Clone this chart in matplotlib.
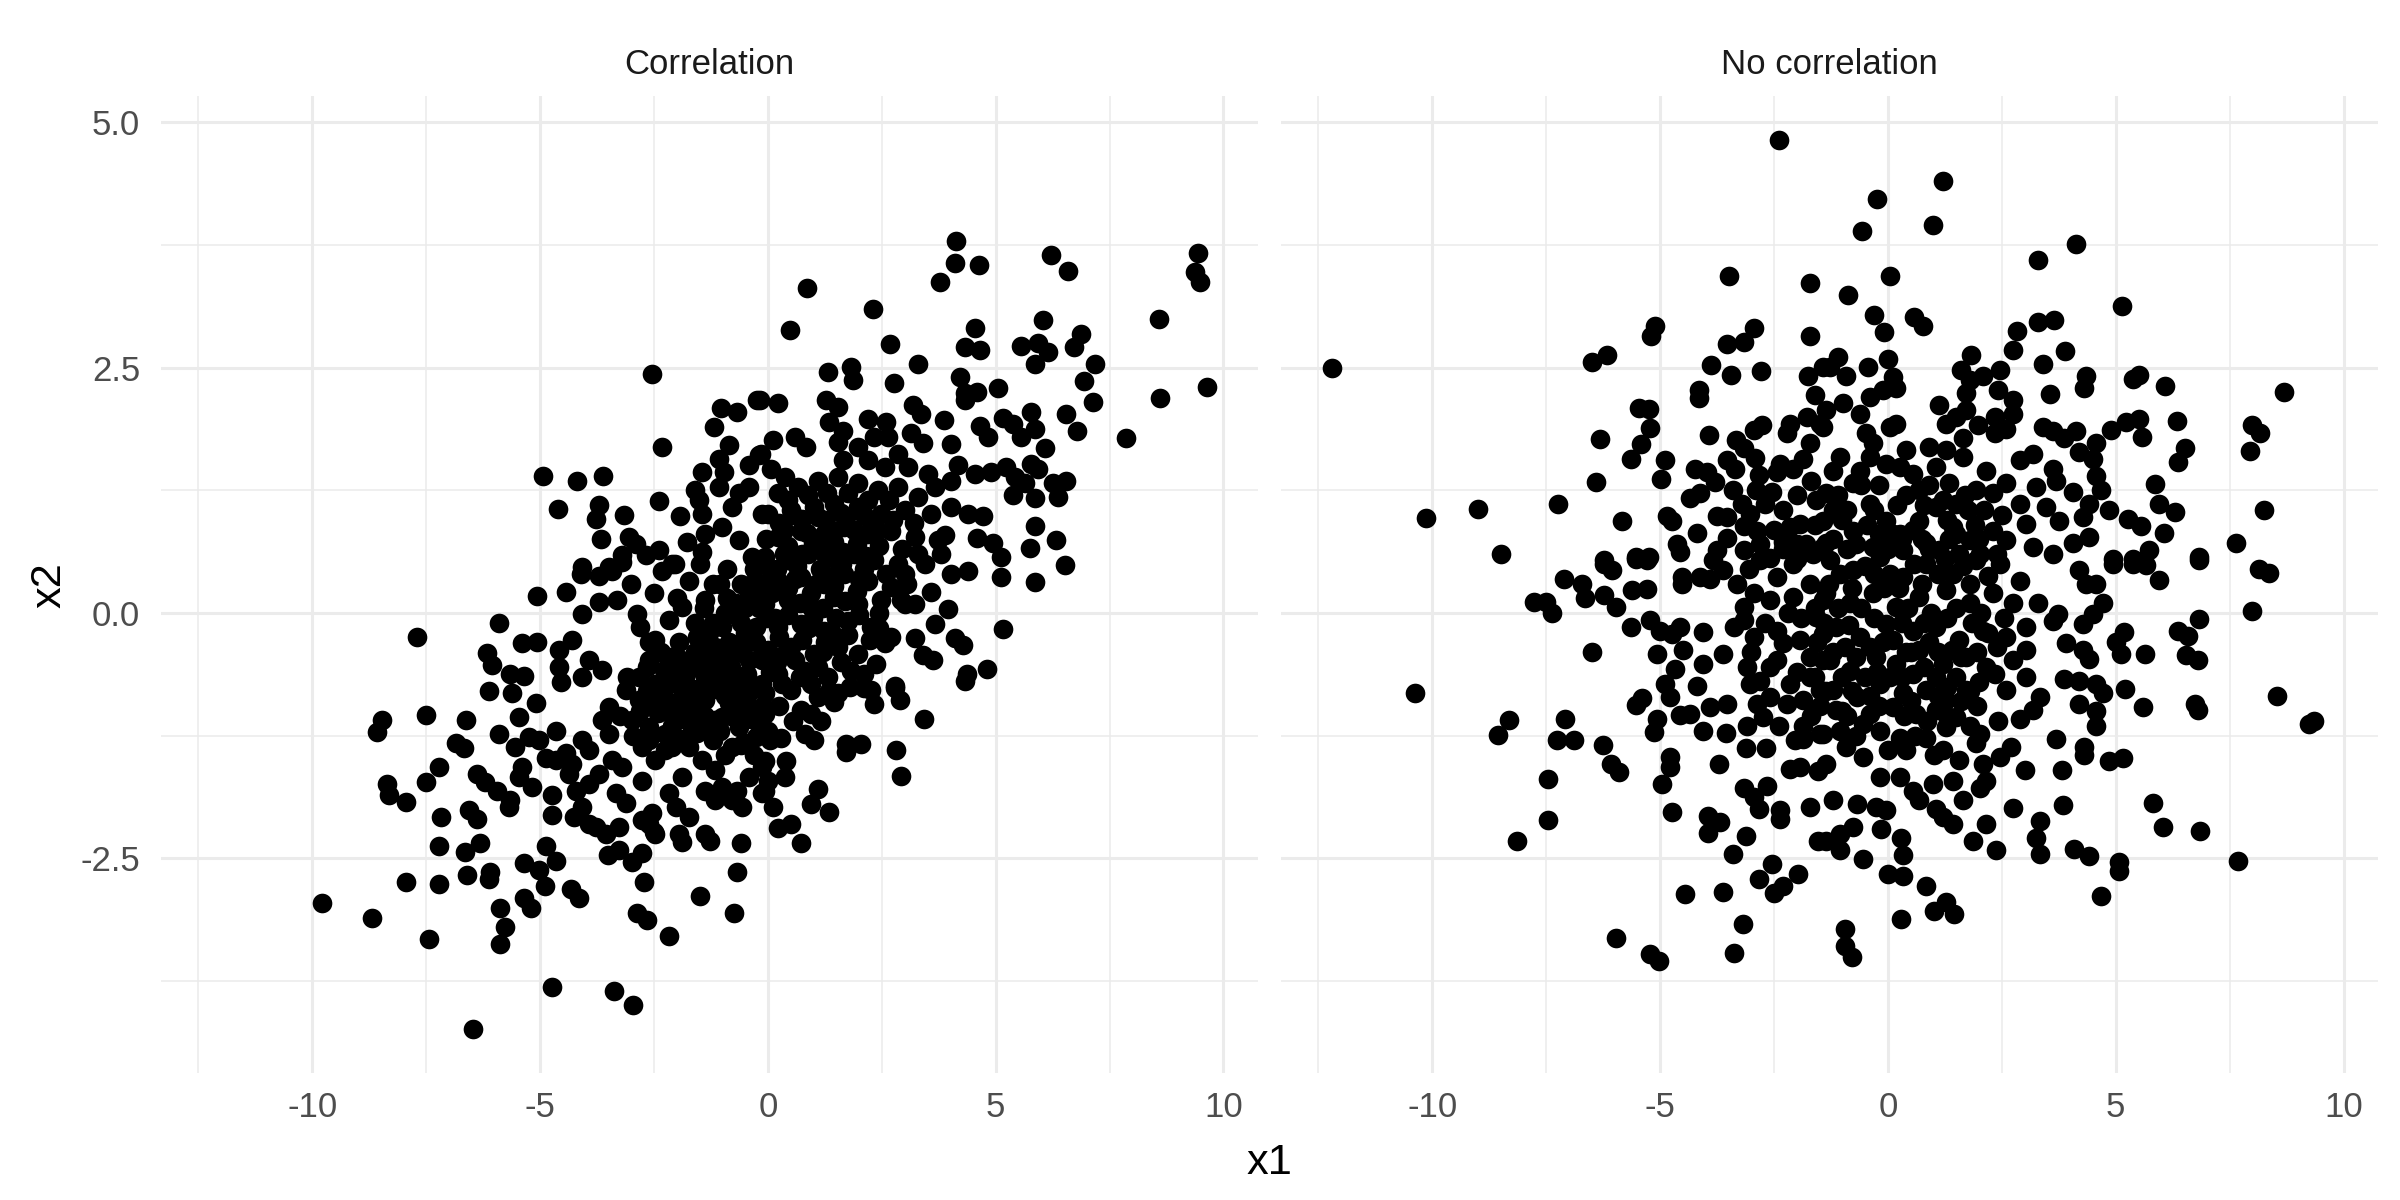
import numpy as np
import matplotlib.pyplot as plt

# points (x1, x2)
corr_pts = np.array([
    # lower-left tail
    (-7.70, -0.25), (-5.06, 0.17), (-5.90, -0.10), (-8.46, -1.09), (-8.57, -1.21), (-7.51, -1.04),
    (-6.62, -1.09), (-6.85, -1.33), (-6.67, -1.38), (-7.22, -1.57), (-7.51, -1.72), (-8.35, -1.74),
    (-8.32, -1.86), (-7.95, -1.93), (-6.38, -1.64), (-6.20, -1.72), (-5.94, -1.81), (-7.18, -2.08),
    (-6.56, -2.01), (-6.38, -2.10), (-7.22, -2.38), (-6.31, -2.35), (-6.64, -2.44), (-7.95, -2.74),
    (-7.22, -2.76), (-6.60, -2.67), (-6.09, -2.64), (-6.12, -2.71), (-9.78, -2.96), (-8.70, -3.11),
    (-7.44, -3.32), (-5.87, -3.01), (-5.77, -3.20), (-5.88, -3.37), (-5.35, -2.55), (-5.03, -2.62),
    (-4.88, -2.38), (-4.66, -2.53), (-4.89, -2.78), (-5.35, -2.91), (-5.21, -3.01), (-4.33, -2.81),
    (-4.15, -2.91), (-4.73, -3.81), (-6.47, -4.24), (-3.38, -3.85), (-2.96, -4.00), (-2.72, -2.74),
    (-2.87, -3.06), (-2.65, -3.13), (-2.17, -3.29), (-1.49, -2.89), (-0.75, -3.06), (-0.67, -2.64),
    (-0.60, -2.35), (-3.50, -2.47), (-3.27, -2.42), (-2.98, -2.54), (-2.76, -2.45), (-1.95, -2.25),
    (-1.88, -2.33), (-1.37, -2.25), (-1.26, -2.32), (-2.61, -2.15), (-2.50, -2.23), (-4.26, -2.08),
    (-3.93, -2.15), (-3.78, -2.18), (-3.56, -2.25), (-3.27, -2.18), (-4.73, -1.86), (-4.73, -2.06),
    (-5.68, -1.98), (-5.65, -1.91), (-5.46, -1.67), (-5.17, -1.77), (-5.39, -1.57), (-5.54, -1.37),
    (-5.90, -1.23), (-6.12, -0.80), (-5.61, -0.82), (-5.10, -0.92), (-6.16, -0.41), (-6.05, -0.53),
    (-5.65, -0.62), (-5.35, -0.64), (-5.39, -0.31), (-5.06, -0.30), (-5.46, -1.06), (-5.24, -1.26),
    (-5.03, -1.30), (-4.88, -1.48), (-4.66, -1.50), (-4.44, -1.43), (-4.29, -1.54), (-4.37, -1.64),
    (-4.66, -1.20), (-4.07, -1.30), (-3.93, -1.40), (-4.59, -0.38), (-4.59, -0.55), (-4.55, -0.70),
    (-4.44, 0.21), (-4.11, 0.40), (-3.71, 0.38), (-3.42, 0.43), (-3.20, 0.52), (-4.07, -0.01),
    (-3.71, 0.11), (-3.31, 0.13), (-2.87, -0.01), (-4.29, -0.28), (-3.93, -0.48), (-4.07, -0.65),
    (-3.64, -0.58), (-3.12, -0.79), (-3.49, -0.96), (-3.64, -1.09), (-3.49, -1.23), (-4.22, -1.81),
    (-3.93, -1.74), (-3.71, -1.64), (-4.07, -1.98), (-3.42, -1.50), (-3.20, -1.57), (-3.34, -1.84),
    (-3.12, -1.94), (-2.76, -1.71), (-2.76, -2.11), (-2.54, -2.04), (-2.47, -2.25), (-2.17, -1.84),
    (-2.02, -1.98), (-1.73, -2.08), (-1.88, -1.67), (-1.37, -1.81), (-1.15, -1.91), (-1.00, -1.77),
    (-0.78, -1.91), (-0.56, -1.98), (-0.67, -1.81), (-1.44, -1.50), (-1.15, -1.60), (-0.78, -1.37),
    (-0.49, -1.33), (-1.15, -1.09), (-1.66, -1.16), (-2.10, -0.92), (-1.88, -1.06), (-2.80, -0.14),
    (-2.47, -0.28), (-2.17, -0.07), (-1.88, 0.06), (-2.32, 0.43), (-2.10, 0.50), (-1.73, 0.33),
    (-1.37, 0.13), (-1.00, -0.14), (-0.71, -0.41), (-1.15, -0.35), (-0.78, -0.01), (-0.42, 0.20),
    (-0.27, -0.14), (-0.12, -0.48),
    # lower-left core
    (-2.83, -0.65), (-2.47, -0.72), (-2.10, -0.65), (-1.73, -0.75), (-1.37, -0.65), (-1.00, -0.75),
    (-0.64, -0.82), (-0.27, -0.75), (-2.83, -0.89), (-2.32, -0.89), (-1.88, -0.86), (-1.37, -0.89),
    (-0.86, -0.92), (-0.27, -0.99), (-2.98, -1.09), (-2.61, -1.16), (-2.25, -1.23), (-1.59, -0.99),
    (-1.00, -1.06), (-0.64, -1.16), (-0.27, -1.26), (-2.76, -1.37), (-2.47, -1.50), (-2.10, -1.37),
    (-1.73, -1.37), (-0.12, -1.57), (-0.42, -1.67), (-0.12, -1.84), (-2.61, -0.48), (-2.17, -0.45),
    (-1.73, -0.48), (-1.37, -0.35), (-0.42, -0.48), (-0.12, -0.72), (-1.20, 0.30), (-0.90, 0.45),
    (-0.60, 0.30), (-0.30, 0.45), (-1.50, 0.50), (-0.50, 0.05), (-1.60, -0.10), (-0.90, 0.15),
    (-2.50, 0.20), (-2.00, 0.15), (-3.00, 0.30), (-2.60, -0.30),
    (-2.65, -0.55), (-2.28, -0.58), (-1.92, -0.60), (-1.55, -0.55), (-1.18, -0.52), (-0.82, -0.55),
    (-0.45, -0.62), (-0.10, -0.40), (-2.65, -0.80), (-2.28, -0.78), (-1.92, -0.74), (-1.55, -0.80),
    (-1.18, -0.78), (-0.82, -0.70), (-0.45, -0.85), (-0.10, -0.95), (-2.80, -1.00), (-2.42, -1.02),
    (-2.05, -1.05), (-1.75, -1.10), (-1.38, -1.05), (-1.05, -1.20), (-0.82, -1.05), (-0.45, -1.08),
    (-2.60, -1.30), (-2.25, -1.40), (-1.90, -1.28), (-1.55, -1.22), (-1.20, -1.30), (-0.95, -1.45),
    (-0.60, -1.35), (-0.30, -1.45), (-2.95, -1.25), (-3.25, -1.05), (-3.10, -0.65), (-2.35, -0.40),
    (-1.95, -0.30), (-1.55, -0.25), (-1.20, -0.10), (-0.85, -0.30), (-0.50, -0.20), (-0.20, 0.05),
    (-1.40, 0.05), (-1.05, 0.30), (-0.70, 0.10), (-0.35, 0.30), (-0.05, 0.25),
    (-2.45, -0.95), (-2.10, -1.15), (-1.70, -0.95), (-1.30, -1.18), (-0.95, -0.85), (-0.60, -0.98),
    (-0.25, -1.10), (-2.20, -0.70), (-1.80, -0.62), (-1.45, -0.75), (-1.10, -0.62), (-0.75, -0.65),
    (-0.40, -0.72), (-2.00, -0.45), (-1.60, -0.40), (-1.25, -0.45), (-0.90, -0.45), (-0.55, -0.35),
    (-0.25, -0.30), (-1.30, -0.20), (-0.95, 0.00), (-0.60, -0.10), (-0.30, 0.15), (0.05, 0.45),
    # upper-left part
    (-2.54, 2.44), (-0.23, 2.17), (-1.02, 2.09), (-0.67, 2.05), (-1.18, 1.90), (-2.32, 1.69),
    (-0.86, 1.71), (-1.08, 1.57), (-1.44, 1.44), (-0.97, 1.44), (-0.42, 1.51), (-0.20, 1.61),
    (-4.94, 1.40), (-4.18, 1.35), (-3.62, 1.40), (-4.60, 1.06), (-3.71, 1.10), (-3.78, 0.96),
    (-3.16, 1.00), (-2.38, 1.14), (-1.92, 0.99), (-1.59, 1.25), (-1.51, 1.15), (-1.44, 1.01),
    (-1.37, 0.81), (-3.66, 0.75), (-3.05, 0.77), (-2.90, 0.70), (-2.68, 0.59), (-2.39, 0.64),
    (-3.20, 0.59), (-1.77, 0.72), (-1.44, 0.62), (-2.03, 0.50), (-1.08, 1.28), (-0.64, 1.22),
    (-0.78, 1.08), (-1.00, 0.88), (-0.42, 1.28), (-0.12, 1.01), (-0.64, 0.74), (-0.34, 0.57),
    (-4.07, 0.47), (-3.49, 0.47),
    # upper-right tail
    (4.12, 3.79), (4.10, 3.57), (4.63, 3.55), (3.77, 3.37), (6.21, 3.65), (6.59, 3.49),
    (9.44, 3.67), (9.37, 3.48), (9.48, 3.37), (8.59, 3.00), (0.86, 3.31), (0.48, 2.88),
    (2.31, 3.10), (2.69, 2.74), (3.29, 2.54), (2.77, 2.34), (1.32, 2.46), (1.83, 2.51),
    (1.87, 2.37), (4.54, 2.91), (4.32, 2.71), (4.65, 2.68), (5.56, 2.72), (5.93, 2.75),
    (6.15, 2.66), (5.86, 2.54), (6.04, 2.99), (6.88, 2.84), (6.73, 2.71), (7.17, 2.54),
    (6.94, 2.36), (7.14, 2.15), (8.60, 2.19), (9.63, 2.30), (7.85, 1.78), (6.55, 2.03),
    (6.79, 1.85), (5.05, 2.29), (4.21, 2.41), (4.32, 2.24), (4.58, 2.25), (4.32, 2.17),
    (-0.18, 2.17), (0.23, 2.14), (1.28, 2.17), (1.54, 2.10), (3.18, 2.12), (3.37, 2.03),
    (3.87, 1.97), (1.35, 1.95), (1.65, 1.86), (1.54, 1.74), (2.20, 1.98), (2.60, 1.95),
    (2.64, 1.79), (3.15, 1.83), (3.40, 1.73), (4.03, 1.72), (4.65, 1.91), (4.83, 1.79),
    (5.16, 1.99), (5.38, 1.93), (5.78, 2.05), (5.86, 1.88), (5.56, 1.79), (6.08, 1.68),
    (0.11, 1.76), (0.59, 1.79), (0.84, 1.69), (-0.15, 1.62), (0.07, 1.47), (0.37, 1.39),
    (1.65, 1.56), (1.98, 1.69), (2.20, 1.56), (2.34, 1.79), (2.86, 1.62), (2.56, 1.49),
    (3.07, 1.49), (3.51, 1.42), (3.66, 1.28), (4.17, 1.51), (4.54, 1.42), (4.90, 1.44),
    (5.23, 1.49), (5.42, 1.39), (4.03, 1.35), (5.78, 1.52), (5.93, 1.47), (5.64, 1.32),
    (5.86, 1.17), (6.26, 1.32), (6.55, 1.35), (6.37, 1.18), (5.38, 1.20), (4.03, 1.08),
    (4.39, 1.01), (4.72, 0.99), (5.86, 0.89), (4.58, 0.76), (4.94, 0.71), (5.75, 0.66),
    (6.33, 0.74), (5.12, 0.57), (5.12, 0.37), (6.52, 0.49), (5.86, 0.32), (4.03, 0.40),
    (4.39, 0.43), (3.81, 0.60), (3.88, 0.79), (3.95, 0.04), (5.16, -0.16), (3.59, 0.21),
    (3.66, -0.11), (4.10, -0.26), (4.28, -0.33), (4.36, -0.62), (4.80, -0.57), (3.22, -0.26),
    (3.40, -0.43), (3.62, -0.48), (2.78, -0.74), (2.38, -0.52), (3.00, 0.40), (3.44, 0.50),
    (3.22, 0.09), (2.93, 0.13),
    # upper-right core
    (0.22, 1.22), (0.66, 1.28), (1.10, 1.35), (1.54, 1.39), (1.98, 1.32), (2.42, 1.25),
    (2.86, 1.28), (3.29, 1.18), (0.00, 1.01), (0.51, 1.05), (1.02, 1.08), (1.46, 1.11),
    (1.98, 1.08), (2.49, 1.01), (3.00, 1.05), (3.59, 1.01), (0.22, 0.77), (0.73, 0.84),
    (1.24, 0.81), (1.68, 0.88), (2.20, 0.81), (2.71, 0.84), (3.22, 0.77), (3.73, 0.74),
    (-0.07, 0.57), (0.44, 0.54), (0.88, 0.60), (1.39, 0.57), (1.90, 0.60), (2.34, 0.54),
    (2.86, 0.50), (3.29, 0.60), (0.22, 0.33), (0.73, 0.37), (1.24, 0.30), (1.68, 0.40),
    (2.20, 0.33), (2.71, 0.26), (-0.07, 0.09), (0.44, 0.13), (0.95, 0.06), (1.46, 0.16),
    (1.98, 0.09), (2.49, 0.13), (3.00, 0.09), (0.22, -0.14), (0.73, -0.11), (1.24, -0.18),
    (1.76, -0.08), (2.27, -0.14), (2.71, -0.25), (0.00, -0.38), (0.51, -0.35), (1.02, -0.42),
    (1.54, -0.35), (1.98, -0.42), (2.56, -0.31), (0.22, -0.62), (0.81, -0.59), (1.32, -0.65),
    (1.83, -0.59), (-0.07, -0.82), (0.51, -0.79), (1.10, -0.86), (1.54, -0.82), (2.12, -0.76),
    (0.45, 1.15), (0.88, 1.20), (1.30, 1.22), (1.75, 1.22), (2.20, 1.15), (2.65, 1.15),
    (0.25, 0.92), (0.75, 0.96), (1.25, 0.95), (1.72, 0.98), (2.25, 0.95), (2.75, 0.95),
    (3.20, 0.92), (-0.05, 0.75), (0.45, 0.68), (0.98, 0.70), (1.45, 0.72), (1.95, 0.70),
    (2.45, 0.68), (2.95, 0.65), (0.20, 0.45), (0.65, 0.48), (1.15, 0.45), (1.62, 0.50),
    (2.10, 0.45), (2.60, 0.40), (3.05, 0.30), (-0.15, 0.30), (0.45, 0.25), (0.95, 0.20),
    (1.45, 0.28), (1.95, 0.22), (2.45, 0.00), (-0.05, -0.05), (0.45, -0.02), (0.98, -0.05),
    (1.50, -0.05), (2.00, -0.02), (2.45, -0.15), (0.25, -0.25), (0.75, -0.28), (1.25, -0.30),
    (1.75, -0.22), (2.25, -0.28), (0.20, -0.50), (0.60, -0.48), (1.10, -0.55), (1.60, -0.50),
    (2.10, -0.62), (0.30, -0.72), (0.95, -0.72), (1.35, -0.80), (1.80, -0.75), (0.25, -0.95),
    (0.55, -1.10), (0.05, -1.30),
    (0.35, 0.60), (0.75, 0.60), (1.20, 0.62), (1.65, 0.62), (2.15, 0.58), (0.35, 0.85),
    (0.85, 0.82), (1.40, 0.85), (1.90, 0.85), (2.40, 0.85), (0.55, 1.00), (1.10, 0.98),
    (1.60, 1.02), (2.10, 1.00), (0.10, 0.20), (0.60, 0.35), (1.05, 0.30), (1.50, 0.40),
    (2.00, 0.35), (0.15, -0.05), (0.70, 0.10), (1.20, 0.05), (1.70, 0.12), (0.40, -0.40),
    (0.90, -0.15), (1.40, -0.20), (0.05, -0.60), (0.70, -0.65), (1.20, -0.40),
    # lower-right part
    (1.46, -0.91), (2.34, -0.93), (2.27, -0.79), (2.78, -0.76), (2.89, -0.89), (3.42, -1.08),
    (4.32, -0.69), (0.73, -0.99), (0.95, -1.03), (1.17, -1.10), (1.02, -1.30), (0.81, -1.23),
    (1.72, -1.34), (2.05, -1.34), (1.72, -1.42), (2.82, -1.40), (2.93, -1.66), (0.40, -1.51),
    (0.37, -1.67), (-0.07, -1.51), (0.00, -1.71), (-0.07, -1.81), (1.10, -1.79), (0.95, -1.95),
    (1.35, -2.03), (0.11, -1.98), (0.22, -2.19), (0.51, -2.15), (0.73, -2.35), (0.00, -1.20),
    (0.29, -1.27), (-0.07, -1.03),
])

nocorr_pts = np.array([
    # upper-left
    (-2.39, 4.82), (-12.21, 2.50), (-3.48, 3.44), (-1.71, 3.36), (-5.11, 2.93), (-5.20, 2.82),
    (-2.95, 2.91), (-3.15, 2.76), (-3.54, 2.74), (-1.71, 2.82), (-6.49, 2.56), (-6.16, 2.63),
    (-3.88, 2.53), (-3.44, 2.43), (-2.79, 2.47), (-1.75, 2.42), (-1.42, 2.51), (-1.60, 2.22),
    (-4.14, 2.27), (-4.14, 2.19), (-5.47, 2.09), (-5.25, 2.08), (-5.23, 1.89), (-6.31, 1.77),
    (-5.43, 1.72), (-5.65, 1.57), (-3.92, 1.81), (-4.89, 1.56), (-4.98, 1.37), (-6.40, 1.33),
    (-2.95, 1.87), (-2.76, 1.92), (-3.33, 1.76), (-3.17, 1.68), (-2.92, 1.58), (-3.54, 1.56),
    (-3.35, 1.47), (-4.23, 1.47), (-3.97, 1.44), (-3.79, 1.34), (-2.84, 1.41), (-2.37, 1.52),
    (-2.44, 1.44), (-2.08, 1.47), (-1.86, 1.57), (-2.15, 1.93), (-2.22, 1.83), (-1.78, 2.00),
    (-1.71, 1.73), (-1.42, 1.90), (-4.34, 1.17), (-4.12, 1.22), (-2.55, 1.23), (-7.24, 1.11),
    (-8.99, 1.06), (-10.14, 0.97), (-8.50, 0.60), (-5.84, 0.94), (-4.85, 0.99), (-4.74, 0.94),
    (-4.19, 0.82), (-4.63, 0.70), (-3.76, 0.99), (-3.54, 0.98), (-3.21, 1.11), (-3.03, 1.01),
    (-2.70, 1.11), (-3.17, 0.89), (-2.88, 0.84), (-3.54, 0.76), (-3.76, 0.64), (-3.17, 0.64),
    (-2.30, 1.05), (-2.15, 0.88), (-2.30, 0.72), (-1.93, 0.91), (-1.57, 1.15), (-1.42, 0.94),
    (-1.42, 0.67), (-6.24, 0.54), (-5.54, 0.57), (-5.25, 0.57), (-2.59, 0.56), (-2.00, 0.55),
    (-3.40, 1.25), (-2.90, 1.25), (-2.50, 0.85), (-2.00, 1.20), (-1.70, 1.35), (-2.80, 0.70),
    (-1.80, 0.70),
    # upper-right
    (1.21, 4.40), (-0.24, 4.22), (-0.58, 3.89), (0.99, 3.96), (4.13, 3.76), (3.29, 3.60),
    (0.04, 3.43), (-0.88, 3.24), (5.14, 3.13), (-0.31, 3.04), (-0.09, 2.86), (0.58, 3.02),
    (0.77, 2.93), (2.83, 2.87), (2.74, 2.68), (3.30, 2.97), (3.64, 2.99), (3.89, 2.67),
    (3.41, 2.54), (0.00, 2.59), (-0.44, 2.51), (-1.10, 2.61), (-1.28, 2.51), (-0.91, 2.42),
    (0.11, 2.41), (0.18, 2.29), (1.83, 2.63), (1.61, 2.48), (2.08, 2.42), (2.47, 2.48),
    (2.41, 2.27), (2.74, 2.17), (2.74, 2.03), (4.35, 2.42), (4.30, 2.29), (3.55, 2.23),
    (5.37, 2.39), (5.50, 2.43), (6.08, 2.31), (8.70, 2.25), (1.11, 2.12), (1.72, 2.24),
    (1.72, 2.07), (1.79, 2.37), (1.28, 1.93), (1.50, 2.00), (1.97, 1.92), (2.34, 2.00),
    (2.34, 1.83), (2.60, 1.88), (1.64, 1.78), (3.40, 1.90), (3.62, 1.85), (3.87, 1.78),
    (4.13, 1.85), (4.90, 1.87), (5.23, 1.95), (5.50, 1.98), (5.58, 1.79), (6.35, 1.96),
    (7.98, 1.92), (8.17, 1.83), (7.95, 1.65), (6.51, 1.68), (6.36, 1.54), (4.57, 1.73),
    (4.20, 1.64), (4.50, 1.57), (5.87, 1.31), (5.95, 1.11), (6.29, 1.03), (4.86, 1.05),
    (5.26, 0.96), (5.56, 0.89), (6.07, 0.82), (8.26, 1.05), (7.65, 0.71), (5.74, 0.64),
    (6.83, 0.57), (4.93, 0.55), (5.37, 0.55), (4.57, 1.40), (4.68, 1.25), (4.06, 1.23),
    (4.42, 1.11), (4.28, 0.98), (4.42, 0.77), (4.06, 0.71), (3.62, 1.47), (3.69, 1.35),
    (3.25, 1.28), (2.89, 1.56), (3.18, 1.62), (2.60, 1.32), (2.30, 1.22), (2.89, 1.11),
    (3.47, 1.08), (3.76, 0.94), (3.03, 0.91), (2.60, 0.74), (3.18, 0.67), (3.62, 0.60),
    (2.16, 1.45), (1.94, 1.25), (1.50, 1.11), (1.06, 1.08), (1.43, 0.88), (1.79, 0.74),
    (2.30, 0.84), (2.01, 0.60), (1.64, 1.59), (1.28, 1.66), (0.91, 1.69), (1.06, 1.49),
    (1.35, 1.32), (0.69, 1.25), (0.40, 1.66), (0.26, 1.49), (0.55, 1.42), (-0.04, 1.52),
    (-0.40, 1.59), (-0.62, 1.45), (-1.06, 1.59), (-1.21, 1.45), (-0.99, 2.14), (-1.35, 2.07),
    (-1.50, 1.93), (-0.62, 2.03), (-0.40, 2.20), (-0.11, 2.27), (0.04, 1.90), (0.18, 1.93),
    (-0.48, 1.83), (-0.33, 1.73), (-0.77, 1.32), (-1.35, 1.22), (-1.21, 1.05), (-0.40, 1.11),
    (-0.04, 0.94), (0.26, 0.81), (-0.77, 0.84), (-1.35, 0.71), (-0.33, 0.67), (0.33, 0.64),
    (0.84, 0.71), (0.69, 0.94), (1.13, 0.64), (1.57, 0.60),
    # lower-left
    (-10.38, -0.82), (-8.32, -1.09), (-8.57, -1.24), (-7.46, -1.69), (-7.46, -2.11), (-8.15, -2.32),
    (-7.08, -1.08), (-7.26, -1.30), (-6.89, -1.29), (-7.11, 0.35), (-6.71, 0.30), (-6.65, 0.15),
    (-7.77, 0.11), (-7.51, 0.11), (-7.37, 0.00), (-6.49, -0.40), (-6.24, 0.50), (-6.05, 0.44),
    (-6.24, 0.18), (-5.98, 0.06), (-5.65, -0.14), (-5.54, 0.55), (-5.29, 0.54), (-5.62, 0.23),
    (-5.29, 0.24), (-5.22, -0.07), (-5.00, -0.18), (-5.07, -0.42), (-4.56, 0.62), (-4.52, 0.37),
    (-4.52, 0.30), (-4.12, 0.37), (-3.90, 0.35), (-4.74, -0.21), (-4.49, -0.38), (-4.56, -0.14),
    (-4.05, -0.19), (-4.67, -0.57), (-4.89, -0.72), (-4.78, -0.86), (-4.19, -0.74), (-4.05, -0.52),
    (-5.40, -0.87), (-5.54, -0.94), (-5.07, -1.08), (-5.14, -1.21), (-4.56, -1.04), (-4.34, -1.03),
    (-4.05, -1.20), (-3.90, -0.96), (-3.54, -0.93), (-3.55, -1.22), (-3.61, -0.42), (-3.39, -0.14),
    (-3.17, -0.07), (-2.95, -0.24), (-3.10, -0.55), (-3.03, -0.72), (-2.81, -0.69), (-3.10, -1.15),
    (-2.88, -0.93), (-2.74, -1.06), (-3.11, -1.38), (-2.68, -1.38), (-4.78, -1.47), (-4.78, -1.57),
    (-4.95, -1.74), (-3.70, -1.54), (-6.26, -1.35), (-6.09, -1.54), (-5.91, -1.62), (-4.73, -2.03),
    (-3.94, -2.07), (-3.68, -2.13), (-3.94, -2.24), (-3.11, -2.27), (-3.41, -2.46), (-4.45, -2.86),
    (-3.61, -2.84), (-3.19, -3.17), (-3.39, -3.47), (-5.97, -3.31), (-5.23, -3.48), (-5.03, -3.55),
    (-3.17, -1.78), (-2.95, -1.88), (-2.84, -2.00), (-2.66, -1.76), (-2.37, -2.01), (-2.37, -2.10),
    (-2.54, -2.56), (-2.82, -2.71), (-2.51, -2.85), (-2.30, -2.78), (-1.97, -2.66), (-2.15, -1.59),
    (-1.93, -1.57), (-1.53, -1.61), (-1.71, -1.98), (-1.53, -2.32), (-1.86, -1.15), (-1.86, -1.28),
    (-1.49, -1.23), (-2.44, -0.48), (-2.15, -0.72), (-1.71, -0.65), (-1.49, -0.79), (-2.59, -0.86),
    (-2.22, -0.93), (-1.86, -0.89), (-3.32, 0.30), (-2.95, 0.20), (-2.44, 0.37), (-2.08, 0.50),
    (-1.71, 0.30), (-1.42, 0.13), (-3.17, 0.06), (-2.59, 0.13), (-2.08, 0.16), (-1.57, -0.04),
    (-2.44, -0.18), (-1.93, -0.28), (-1.42, -0.21), (-2.81, 0.54), (-3.61, 0.44), (-3.83, 0.54),
    (-1.42, -0.48), (-1.71, -0.45), (-2.30, -0.31),
    (-3.00, -0.40), (-2.70, -0.10), (-2.60, -0.55), (-2.20, 0.00), (-1.90, -0.05), (-2.00, -0.60),
    (-1.70, -1.05), (-2.40, -1.15), (-2.05, -1.30), (-1.65, 0.60), (-3.05, 0.45), (-2.30, 0.65),
    # lower-right
    (6.83, 0.54), (8.15, 0.45), (8.37, 0.41), (8.00, 0.02), (5.94, 0.34), (4.93, 0.50),
    (5.37, 0.50), (5.67, 0.49), (6.82, -0.06), (6.36, -0.18), (6.58, -0.23), (6.54, -0.43),
    (6.80, -0.48), (5.19, -0.19), (5.01, -0.30), (5.12, -0.42), (5.65, -0.42), (5.21, -0.78),
    (5.59, -0.96), (6.75, -0.93), (6.80, -0.99), (8.54, -0.85), (9.25, -1.13), (9.36, -1.10),
    (5.81, -1.94), (6.03, -2.18), (6.86, -2.22), (7.69, -2.53), (4.68, -2.89), (5.08, -2.54),
    (5.08, -2.63), (4.09, -2.41), (4.42, -2.48), (3.33, -2.46), (3.25, -2.29), (3.33, -2.12),
    (2.74, -1.99), (3.84, -1.96), (3.00, -1.60), (3.82, -1.60), (3.69, -1.28), (4.31, -1.37),
    (4.31, -1.45), (4.86, -1.51), (5.17, -1.48), (4.20, 0.44), (4.35, 0.30), (4.57, 0.30),
    (4.71, 0.10), (4.50, -0.01), (4.28, -0.11), (3.29, 0.10), (3.73, -0.01), (3.62, -0.08),
    (3.91, -0.31), (4.28, -0.38), (4.42, -0.47), (3.87, -0.67), (4.20, -0.69), (4.57, -0.72),
    (4.71, -0.82), (4.20, -0.93), (4.57, -1.00), (4.57, -1.15), (3.33, -0.86), (3.18, -0.99),
    (2.89, -1.08), (2.41, -1.10), (2.70, -1.37), (2.45, -1.47), (1.79, -1.15), (2.01, -1.23),
    (1.94, -1.33), (2.08, -1.54), (2.16, -1.71), (2.01, -1.78), (1.57, -1.50), (1.43, -1.71),
    (1.64, -1.91), (2.16, -2.15), (2.38, -2.42), (1.86, -2.32), (1.43, -2.15), (1.06, -2.00),
    (1.21, -2.08), (0.84, -2.78), (1.02, -3.04), (1.28, -2.95), (1.46, -3.07), (0.28, -3.12),
    (0.29, -2.29), (0.33, -2.47), (0.00, -2.66), (0.33, -2.68), (-0.55, -2.51), (-0.15, -2.20),
    (-0.95, -3.22), (-0.95, -3.39), (-0.78, -3.51), (-1.06, -2.25), (-0.77, -2.18), (-1.35, -2.32),
    (-1.06, -2.42), (-1.21, -1.91), (-0.69, -1.95), (-0.26, -1.98), (-0.04, -2.01), (0.55, -1.81),
    (0.69, -1.91), (0.99, -1.74), (-1.35, -1.54), (-0.91, -1.37), (-0.55, -1.47), (-0.18, -1.67),
    (0.26, -1.67), (0.40, -1.40), (0.84, -1.27), (1.21, -1.40), (1.28, -1.16), (-1.43, -1.23),
    (-1.06, -1.20), (-0.55, -1.13), (-0.18, -1.20), (0.26, -1.27),
    # centre
    (-1.28, 0.54), (-0.77, 0.44), (-0.18, 0.57), (0.33, 0.37), (0.84, 0.50), (1.43, 0.40),
    (1.94, 0.54), (2.45, 0.50), (2.89, 0.33), (-1.35, 0.20), (-0.84, 0.10), (-0.33, 0.20),
    (0.18, 0.06), (0.69, 0.16), (1.28, 0.23), (1.79, 0.10), (2.30, 0.20), (2.74, 0.10),
    (-1.13, -0.14), (-0.62, -0.24), (-0.04, -0.11), (0.55, -0.18), (1.06, -0.14), (1.57, -0.28),
    (2.08, -0.18), (2.60, -0.24), (3.03, -0.14), (-1.28, -0.48), (-0.84, -0.59), (-0.26, -0.45),
    (0.18, -0.52), (0.69, -0.38), (1.21, -0.52), (1.72, -0.45), (2.16, -0.55), (2.74, -0.48),
    (3.03, -0.38), (-1.21, -0.79), (-0.69, -0.86), (-0.18, -0.72), (0.33, -0.82), (0.84, -0.79),
    (1.28, -0.89), (1.72, -0.79), (2.60, -0.79), (3.03, -0.65), (-1.13, -0.99), (-0.40, -1.03),
    (0.11, -0.96), (0.62, -1.03), (1.06, -0.99), (1.50, -1.06),
    (-1.05, 0.40), (-0.50, 0.48), (0.05, 0.40), (0.58, 0.50), (1.10, 0.40), (1.65, 0.48),
    (2.20, 0.38), (-1.60, 0.05), (-1.10, 0.05), (-0.60, 0.05), (-0.08, 0.25), (0.45, 0.05),
    (0.95, 0.00), (1.50, 0.05), (2.05, 0.00), (2.55, -0.05), (-1.55, -0.30), (-0.95, -0.35),
    (-0.40, -0.35), (0.10, -0.28), (0.40, -0.40), (0.90, -0.30), (1.40, -0.38), (1.95, -0.40),
    (2.40, -0.35), (-1.60, -0.65), (-1.00, -0.65), (-0.50, -0.65), (0.05, -0.65), (0.55, -0.62),
    (1.05, -0.65), (1.50, -0.65), (2.00, -0.70), (2.35, -0.62), (-1.50, -0.95), (-0.90, -1.05),
    (-0.40, -0.85), (0.35, -1.05), (0.85, -1.10), (1.30, -1.05), (1.95, -0.95), (-0.70, -1.25),
    (0.00, -1.40), (0.60, -1.25), (1.00, -1.45), (-1.10, 1.20), (-0.60, 1.30), (-0.20, 1.30),
    (0.40, 1.20), (0.90, 1.30), (1.70, 1.20), (2.10, 1.05), (-1.60, 0.90), (-1.00, 0.95),
    (-0.45, 0.90), (0.10, 0.80), (0.55, 0.85), (1.30, 0.95), (1.90, 0.90), (2.50, 1.00),
    (-2.00, 0.70), (-0.90, 0.65), (0.00, 0.65), (0.90, 0.65), (1.35, 0.75), (2.40, 0.60),
    (-1.30, 0.30), (-0.80, 0.25), (-0.30, 0.40), (0.25, 0.25), (0.75, 0.30), (1.25, 0.55),
    (1.80, 0.30), (-1.40, -0.10), (-0.85, -0.12), (-0.30, -0.05), (0.30, -0.10), (0.80, -0.10),
    (1.30, -0.05), (1.85, -0.10), (-1.20, -0.40), (-0.70, -0.45), (-0.10, -0.30), (0.50, -0.40),
    (1.10, -0.40), (1.60, -0.45), (2.20, -0.20), (-1.35, -0.80), (-0.80, -0.80), (-0.25, -0.60),
    (0.30, -0.65), (0.80, -0.55), (1.30, -0.75), (1.80, -0.80), (-1.00, -1.00), (-0.20, -0.95),
    (0.50, -0.90), (1.10, -0.85), (1.60, -0.90), (-1.20, 0.75), (-0.70, 0.70), (-0.20, 0.80),
    (0.30, 0.75), (0.75, 0.75), (1.50, 0.80), (2.00, 0.75), (-0.90, 1.05), (-0.30, 1.05),
    (0.20, 1.10), (0.80, 1.10), (1.20, 1.15), (1.75, 1.05),
])

corr_x, corr_y = corr_pts[:, 0], corr_pts[:, 1]
nocorr_x, nocorr_y = nocorr_pts[:, 0], nocorr_pts[:, 1]

panels = ["Correlation", "No correlation"]
x_major = [-10, -5, 0, 5, 10]
x_minor = [-12.5, -7.5, -2.5, 2.5, 7.5]
y_major = [-2.5, 0.0, 2.5, 5.0]
y_minor = [-3.75, -1.25, 1.25, 3.75]

plt.rcParams['font.family'] = ['Liberation Sans', 'DejaVu Sans']

fig = plt.figure(figsize=(12, 6), dpi=200)
ax1 = fig.add_axes([0.0671, 0.1058, 0.4571, 0.8142])
ax2 = fig.add_axes([0.5338, 0.1058, 0.4571, 0.8142])

for ax, title, xs, ys in [(ax1, panels[0], corr_x, corr_y), (ax2, panels[1], nocorr_x, nocorr_y)]:
    ax.set_xlim(-13.32, 10.76)
    ax.set_ylim(-4.69, 5.27)
    for v in x_minor:
        ax.axvline(v, color='#EBEBEB', lw=0.55, zorder=0)
    for v in y_minor:
        ax.axhline(v, color='#EBEBEB', lw=0.55, zorder=0)
    for v in x_major:
        ax.axvline(v, color='#EBEBEB', lw=1.1, zorder=0)
    for v in y_major:
        ax.axhline(v, color='#EBEBEB', lw=1.1, zorder=0)
    ax.scatter(xs, ys, s=50, c='black', linewidths=0, zorder=2)
    ax.set_xticks(x_major)
    ax.set_xticklabels([str(v) for v in x_major])
    ax.set_yticks(y_major)
    ax.set_yticklabels(['%.1f' % v for v in y_major])
    ax.tick_params(length=0, labelsize=12.5, colors='#4D4D4D')
    ax.tick_params(axis='x', pad=6.5)
    ax.tick_params(axis='y', pad=7.5)
    for s in ax.spines.values():
        s.set_visible(False)
    ax.set_title(title, fontsize=12.5, color='#1A1A1A', pad=8)

ax2.tick_params(axis='y', labelleft=False)

fig.text(1269 / 2400, 1 - 1163 / 1200, 'x1', fontsize=15.6, ha='center', va='center')
fig.text(50 / 2400, 1 - 585 / 1200, 'x2', fontsize=15.6, ha='center', va='center', rotation=90)

fig.savefig('out.png', dpi=200, facecolor='white')
